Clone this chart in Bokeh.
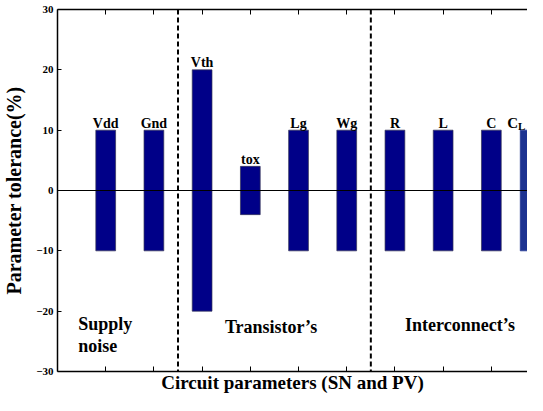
from bokeh.plotting import figure
from bokeh.models import Range1d, FixedTicker, LinearAxis, Span, ColumnDataSource, Label
from bokeh.core.properties import value
from bokeh.embed import file_html
from bokeh.resources import INLINE

# ---- data ----
names = ["Vdd", "Gnd", "Vth", "tox", "Lg", "Wg", "R", "L", "C"]
positions = [1, 2, 3, 4, 5, 6, 7, 8, 9]
upper = [10, 10, 20, 4, 10, 10, 10, 10, 10]
lower = [-10, -10, -20, -4, -10, -10, -10, -10, -10]
cl_position = [10]
cl_upper = [10]
cl_lower = [-10]
group_separators = [2.5, 6.5]
y_ticks = [-30, -20, -10, 0, 10, 20, 30]
y_tick_labels = ["\u221230", "\u221220", "\u221210", "0", "10", "20", "30"]

FONT = "Liberation Serif"

p = figure(width=527, height=395, x_range=Range1d(0, 9.75), y_range=Range1d(-30, 30),
           output_backend="svg", toolbar_location=None,
           min_border_left=56, min_border_right=0, min_border_top=9, min_border_bottom=0)
p.xgrid.visible = False
p.ygrid.visible = False
p.outline_line_color = None
p.background_fill_color = "white"

src = ColumnDataSource(dict(x=positions, top=upper, bottom=lower, name=names))
p.vbar(x="x", top="top", bottom="bottom", width=0.41, source=src,
       fill_color="#000088", line_color="#333355", line_width=0.7)
p.vbar(x=cl_position, top=cl_upper, bottom=cl_lower, width=0.8,
       fill_color="#1c3290", line_color="#1c3290", line_width=0.7)

p.text(x="x", y="top", text="name", source=src, text_font=value(FONT),
       text_font_style="bold", text_font_size="14px", text_align="center",
       text_baseline="alphabetic", y_offset=-7, text_color="black")
# C_L label (C with subscript L), kept inside the visible area
p.text(x=cl_position, y=cl_upper, text=["C"], text_font=value(FONT),
       text_font_style="bold", text_font_size="15px", text_align="center",
       text_baseline="alphabetic", x_offset=-27, y_offset=-7, text_color="black")
p.text(x=cl_position, y=cl_upper, text=["L"], text_font=value(FONT),
       text_font_style="bold", text_font_size="11px", text_align="center",
       text_baseline="alphabetic", x_offset=-18, y_offset=-4, text_color="black")

# zero line and group separators
p.add_layout(Span(location=0, dimension="width", line_color="black", line_width=1))
for s in group_separators:
    p.add_layout(Span(location=s, dimension="height", line_color="black",
                      line_width=2, line_dash="5 3"))

# group labels
grp_kw = dict(text_font=FONT, text_font_style="bold", text_font_size="18px",
              text_color="black", text_baseline="middle")
p.add_layout(Label(x=0.43, y=-22.2, text="Supply", text_align="left", **grp_kw))
p.add_layout(Label(x=0.43, y=-25.8, text="noise", text_align="left", **grp_kw))
p.add_layout(Label(x=4.43, y=-22.7, text="Transistor\u2019s", text_align="center", **grp_kw))
p.add_layout(Label(x=8.35, y=-22.3, text="Interconnect\u2019s", text_align="center", **grp_kw))

# axes
tick_blank = {t: "" for t in positions + cl_position}
xa = p.xaxis[0]
xa.ticker = FixedTicker(ticks=positions + cl_position)
xa.major_label_overrides = tick_blank
xa.major_label_text_font_size = "1px"
xa.major_label_standoff = 0
xa.major_tick_in = 5
xa.major_tick_out = 0
xa.minor_tick_line_color = None
xa.axis_line_width = 1.5
xa.axis_line_color = "black"
xa.major_tick_line_color = "black"
xa.axis_label = "Circuit parameters (SN and PV)"
xa.axis_label_text_font = FONT
xa.axis_label_text_font_style = "bold"
xa.axis_label_text_font_size = "19px"
xa.axis_label_text_color = "black"
xa.axis_label_standoff = 0

top = LinearAxis(ticker=FixedTicker(ticks=positions + cl_position),
                 major_label_overrides=tick_blank,
                 major_label_text_font_size="1px", major_label_standoff=0,
                 major_tick_in=5, major_tick_out=0, minor_tick_line_color=None,
                 axis_line_width=1.5, axis_line_color="black", major_tick_line_color="black")
p.add_layout(top, "above")

ya = p.yaxis[0]
ya.ticker = FixedTicker(ticks=y_ticks)
ya.major_label_overrides = {t: l for t, l in zip(y_ticks, y_tick_labels)}
ya.major_label_text_font = FONT
ya.major_label_text_font_style = "bold"
ya.major_label_text_font_size = "11px"
ya.major_label_text_color = "black"
ya.major_label_standoff = 4
ya.major_tick_in = 4
ya.major_tick_out = 0
ya.minor_tick_line_color = None
ya.axis_line_width = 1.5
ya.axis_line_color = "black"
ya.major_tick_line_color = "black"
ya.axis_label = "Parameter tolerance(%)"
ya.axis_label_text_font = FONT
ya.axis_label_text_font_style = "bold"
ya.axis_label_text_font_size = "20px"
ya.axis_label_text_color = "black"
ya.axis_label_standoff = 8

open("out.html", "w").write(file_html(p, INLINE))
